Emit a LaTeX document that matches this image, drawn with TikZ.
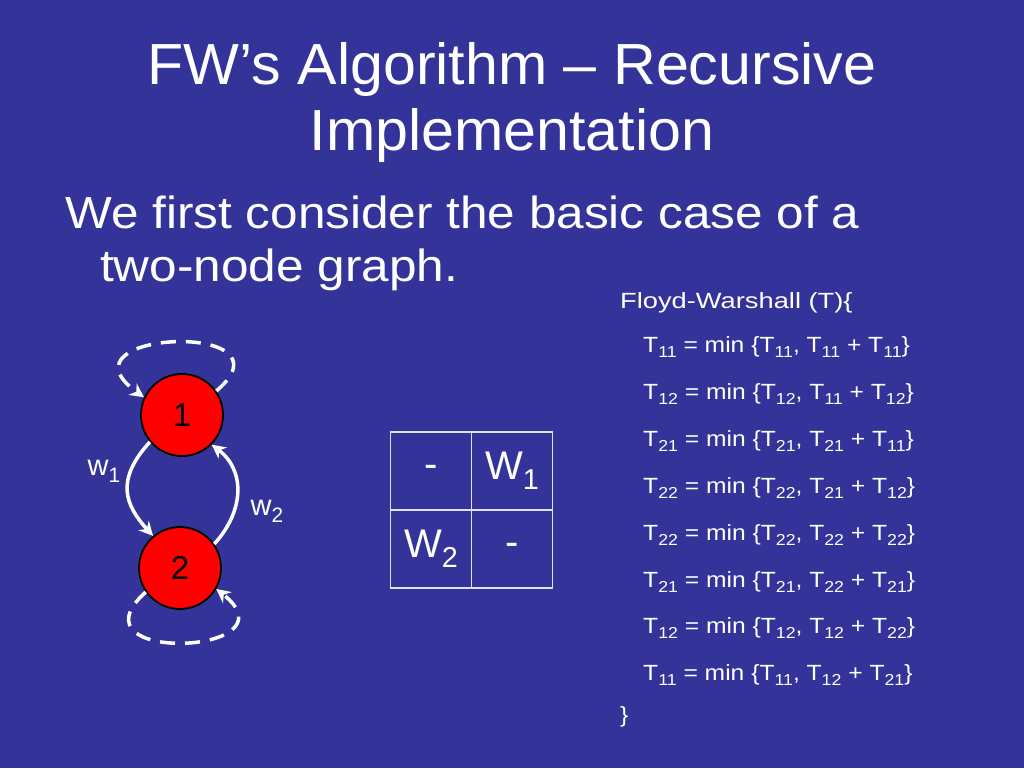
\documentclass[tikz,border=0pt]{standalone}
\usepackage{fontspec}
\setmainfont{Liberation Sans}
\newfontfamily\titlefont[FakeStretch=1.02]{Liberation Sans}
\newfontfamily\bodyfont[FakeStretch=1.1]{Liberation Sans}
\newfontfamily\floydfont[FakeStretch=1.24]{Liberation Sans}
\newfontfamily\codefont[FakeStretch=1.12]{Liberation Sans}
\usetikzlibrary{arrows.meta}
\definecolor{bg}{RGB}{51,51,153}
\definecolor{nodered}{RGB}{255,0,0}
\definecolor{grid}{RGB}{225,225,235}
\newcommand{\sbs}[1]{\raisebox{-0.24em}{\scalebox{0.72}{#1}}}
\begin{document}
\begin{tikzpicture}[x=1pt,y=-1pt,
  txt/.style={text=white, inner sep=0pt, anchor=base west},
  ttl/.style={text=white, inner sep=0pt, anchor=base, font=\titlefont\fontsize{58}{58}\selectfont},
  body/.style={txt, font=\bodyfont\fontsize{45}{45}\selectfont},
  vert/.style={circle, draw=black, line width=1.8pt, fill=nodered, minimum size=82pt, inner sep=0pt, font=\fontsize{33}{33}\selectfont},
  edge/.style={draw=white, line width=3.5pt, -{Stealth[length=14pt,width=14pt]}},
  loopedge/.style={edge, dash pattern=on 15pt off 10pt},
  lbl/.style={text=white, inner sep=0pt, font=\fontsize{29}{29}\selectfont},
  cell/.style={rectangle, draw=grid, line width=1.8pt, minimum width=81pt, minimum height=78pt, inner sep=0pt, text=white, font=\fontsize{40}{40}\selectfont},
  code/.style={txt, font=\codefont\fontsize{22}{22}\selectfont}
]
\fill[bg] (0,0) rectangle (1024,768);
\useasboundingbox (0,0) rectangle (1024,768);

% title
\node[ttl] (t1) at (512,84) {FW’s Algorithm – Recursive};
\node[ttl] (t2) at (512,150) {Implementation};

% body
\node[body] (b1) at (65,228) {We first consider the basic case of a};
\node[body] (b2) at (100,281) {two-node graph.};

% graph
\node[vert] (n1) at (182,415) {1};
\node[vert] (n2) at (180,568) {2};
\draw[loopedge] (n1.35) .. controls (300,320) and (50,330) .. (n1.155);
\draw[loopedge] (n2.215) .. controls (65,665) and (300,655) .. (n2.330);
\draw[edge] (n1.220) .. controls (115,480) and (125,505) .. (n2.130);
\draw[edge] (n2.35) .. controls (245,510) and (245,470) .. (n1.-45);
\node[lbl] (w1) at (104,471) {w\sbs{1}};
\node[lbl] (w2) at (267,511) {w\sbs{2}};

% matrix
\node[cell] (c11) at (431,471) {-};
\node[cell] (c12) at (512,471) {W\sbs{1}};
\node[cell] (c21) at (431,549) {W\sbs{2}};
\node[cell] (c22) at (512,549) {-};

% code
\node[txt, font=\floydfont\fontsize{22}{22}\selectfont] (f0) at (620,308) {Floyd-Warshall (T)\{};
\node[code] (f1) at (643,352) {T\sbs{11} = min \{T\sbs{11}, T\sbs{11} + T\sbs{11}\}};
\node[code] (f2) at (643,399) {T\sbs{12} = min \{T\sbs{12}, T\sbs{11} + T\sbs{12}\}};
\node[code] (f3) at (643,446) {T\sbs{21} = min \{T\sbs{21}, T\sbs{21} + T\sbs{11}\}};
\node[code] (f4) at (643,493) {T\sbs{22} = min \{T\sbs{22}, T\sbs{21} + T\sbs{12}\}};
\node[code] (f5) at (643,540) {T\sbs{22} = min \{T\sbs{22}, T\sbs{22} + T\sbs{22}\}};
\node[code] (f6) at (643,587) {T\sbs{21} = min \{T\sbs{21}, T\sbs{22} + T\sbs{21}\}};
\node[code] (f7) at (643,633) {T\sbs{12} = min \{T\sbs{12}, T\sbs{12} + T\sbs{22}\}};
\node[code] (f8) at (643,680) {T\sbs{11} = min \{T\sbs{11}, T\sbs{12} + T\sbs{21}\}};
\node[code] (f9) at (620,722) {\}};
\end{tikzpicture}
\end{document}
